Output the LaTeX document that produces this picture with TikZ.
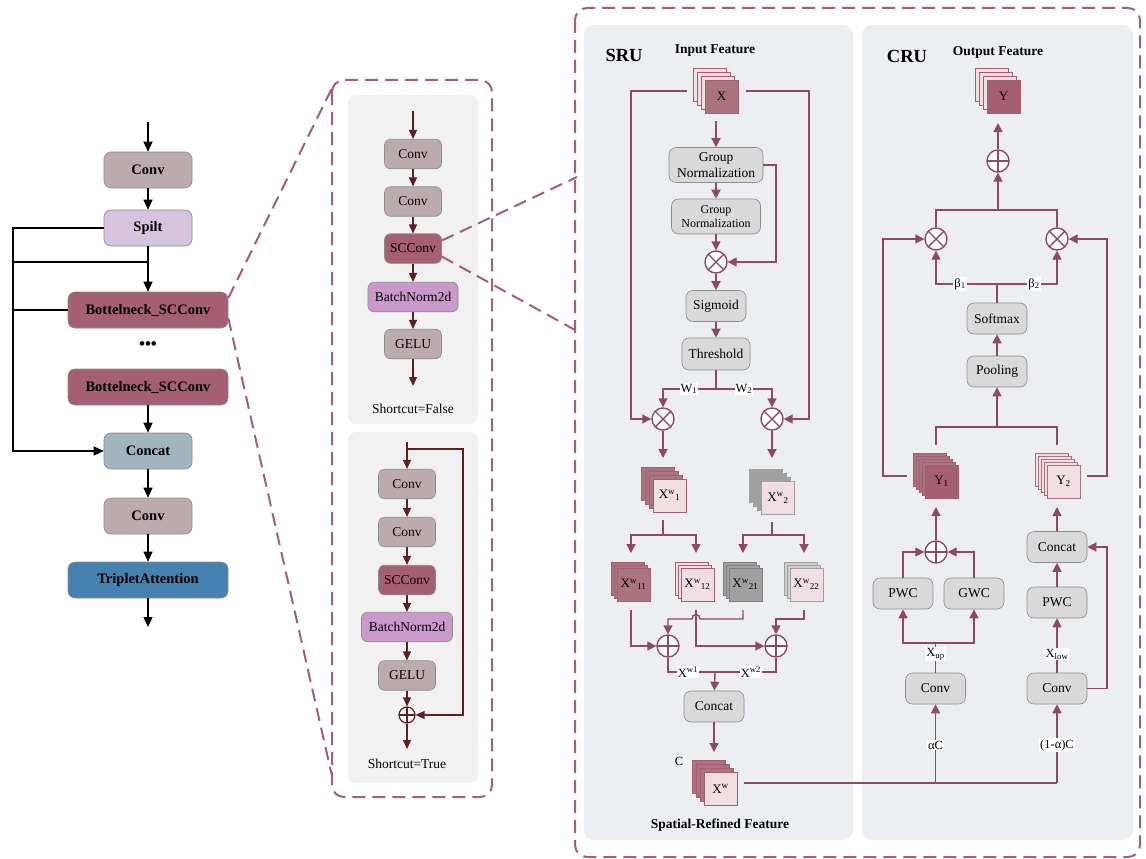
\documentclass[tikz,border=0pt]{standalone}
\usepackage{fontspec}
\setmainfont{Liberation Serif}
\usetikzlibrary{arrows.meta,calc}
\definecolor{lc}{RGB}{142,74,98}
\definecolor{mauve}{RGB}{164,95,114}
\definecolor{mauvem}{RGB}{170,115,128}
\definecolor{pinkl}{RGB}{240,222,227}
\definecolor{grayb}{RGB}{160,160,160}
\definecolor{grayl}{RGB}{205,205,205}
\definecolor{boxg}{RGB}{217,217,217}
\definecolor{boxd}{RGB}{140,140,140}
\definecolor{panel}{RGB}{237,238,242}
\definecolor{midp}{RGB}{241,241,241}
\definecolor{brn}{RGB}{92,32,32}
\definecolor{convc}{RGB}{186,171,175}
\definecolor{spiltc}{RGB}{212,196,222}
\definecolor{concatc}{RGB}{162,181,190}
\definecolor{tripc}{RGB}{69,130,175}
\definecolor{bnc}{RGB}{203,152,203}
\definecolor{dashc}{RGB}{164,95,114}
\newcommand\fsz[1]{\fontsize{#1}{#1}\selectfont}
% #1 name, #2 x, #3 y, #4 n backs, #5 offset, #6 back fill, #7 front fill, #8 draw, #9 label
\newcommand\fstack[9]{%
  \foreach \i in {#4,...,1}{%
    \node[sq, fill=#6, draw=#8] (#1b\i) at ({#2-\i*#5},{#3-\i*#5}) {};
  }%
  \node[sq, fill=#7, draw=#8] (#1) at (#2,#3) {#9};
}
\begin{document}
\begin{tikzpicture}[x=1pt,y=-1pt,
  lbox/.style={draw=black!45, line width=0.6pt, rounded corners=7pt, minimum height=36pt, inner sep=0pt, font=\fsz{14.5}\bfseries},
  mbox/.style={draw=boxd, line width=0.6pt, rounded corners=6pt, minimum height=29.5pt, minimum width=57pt, inner sep=0pt, font=\fsz{13.5}},
  gbox/.style={draw=boxd, fill=boxg, line width=0.6pt, rounded corners=7pt, minimum height=31pt, minimum width=60pt, inner sep=0pt, font=\fsz{13.5}},
  sq/.style={minimum size=33pt, inner sep=0pt, line width=0.7pt, font=\fsz{13}},
  larr/.style={draw=black, line width=1.3pt, -{Triangle[length=10pt,width=9pt]}},
  lline/.style={draw=black, line width=1.3pt},
  barr/.style={draw=brn, line width=1.3pt, -{Triangle[length=9pt,width=8pt]}},
  marr/.style={draw=lc, line width=1.4pt, -{Triangle[length=9pt,width=9pt]}},
  mline/.style={draw=lc, line width=1.4pt},
  dashbox/.style={draw=dashc, line width=2pt, dash pattern=on 13pt off 7pt, rounded corners=12pt},
  zoomline/.style={draw=dashc, line width=2pt, dash pattern=on 13pt off 7pt},
  otimes/.style={circle, draw=lc, fill=white, line width=1.4pt, minimum size=22pt, inner sep=0pt,
    path picture={\draw[lc, line width=1.4pt] (path picture bounding box.north west) -- (path picture bounding box.south east) (path picture bounding box.north east) -- (path picture bounding box.south west);}},
  oplus/.style={circle, draw=lc, fill=white, line width=1.4pt, minimum size=22pt, inner sep=0pt,
    path picture={\draw[lc, line width=1.4pt] (path picture bounding box.north) -- (path picture bounding box.south) (path picture bounding box.east) -- (path picture bounding box.west);}},
  boplus/.style={circle, draw=brn, fill=white, line width=1.2pt, minimum size=16pt, inner sep=0pt,
    path picture={\draw[brn, line width=1.2pt] (path picture bounding box.north) -- (path picture bounding box.south) (path picture bounding box.east) -- (path picture bounding box.west);}},
  title/.style={font=\fsz{18.5}\bfseries, inner sep=0pt},
  htext/.style={font=\fsz{13.5}\bfseries, inner sep=0pt},
  mtext/.style={font=\fsz{13.5}, inner sep=0pt},
  lab/.style={fill=white, font=\fsz{12.5}, inner sep=1pt},
]
\useasboundingbox (0,0) rectangle (1146,859);
\fill[white] (0,0) rectangle (1146,859);

% ---------- backgrounds ----------
\draw[dashbox] (332,80) rectangle (492,797);
\fill[midp, rounded corners=8pt] (348,95) rectangle (478,424);
\fill[midp, rounded corners=8pt] (348,432) rectangle (478,783);
\draw[dashbox] (575,8) rectangle (1140,857);
\fill[panel, rounded corners=10pt] (584,25) rectangle (853,840);
\fill[panel, rounded corners=10pt] (862,25) rectangle (1133,840);

% ---------- left column ----------
\coordinate (lin) at (148,122);
\node[lbox, fill=convc, minimum width=88pt] (lconv1) at (148,170) {Conv};
\node[lbox, fill=spiltc, minimum width=88pt] (lsp) at (148,228) {Spilt};
\node[lbox, fill=mauve, minimum width=160pt] (lb1) at (148,310) {Bottelneck\_SCConv};
\node[font=\fsz{17}\bfseries, inner sep=0pt] (ldots) at (148,346) {•••};
\node[lbox, fill=mauve, minimum width=160pt] (lb2) at (148,387) {Bottelneck\_SCConv};
\node[lbox, fill=concatc, minimum width=88pt] (lcat) at (148,451) {Concat};
\node[lbox, fill=convc, minimum width=88pt] (lconv2) at (148,516) {Conv};
\node[lbox, fill=tripc, minimum width=160pt] (ltrip) at (148,580) {TripletAttention};
\coordinate (lout) at (148,627);
\coordinate (lbusT) at (13,228);
\coordinate (lbusJ) at (13,262);
\coordinate (lbusB) at (13,451);
\coordinate (lj) at (148,262);

\draw[larr] (lin) -- (lconv1);
\draw[larr] (lconv1) -- (lsp);
\draw[larr] (lsp) -- (lb1);
\draw[larr] (lsp.west) -- (lbusT) -- (lbusB) -- (lcat.west);
\draw[lline] (lbusJ) -- (lj);
\draw[lline] (lb1.west) -- (lb1.west -| lbusT);
\draw[larr] (lb2) -- (lcat);
\draw[larr] (lcat) -- (lconv2);
\draw[larr] (lconv2) -- (ltrip);
\draw[larr] (ltrip) -- (lout);

% zoom lines
\coordinate (mpTL) at (334,84);
\coordinate (mpBL) at (332,776);
\draw[zoomline] ([yshift=12pt]lb1.east) -- (mpTL);
\draw[zoomline] ([yshift=-8pt]lb1.east) -- (mpBL);

% ---------- middle: Shortcut=False ----------
\coordinate (mtin) at (413,111);
\node[mbox, fill=convc] (mc1) at (413,154) {Conv};
\node[mbox, fill=convc] (mc2) at (413,201.5) {Conv};
\node[mbox, fill=mauve] (msc) at (413,248.5) {SCConv};
\node[mbox, fill=bnc, minimum width=90pt] (mbn) at (413,297) {BatchNorm2d};
\node[mbox, fill=convc] (mgelu) at (413,344) {GELU};
\coordinate (mtout) at (413,386);
\node[mtext] (msf) at (413,409) {Shortcut=False};
\draw[barr] (mtin) -- (mc1);
\draw[barr] (mc1) -- (mc2);
\draw[barr] (mc2) -- (msc);
\draw[barr] (msc) -- (mbn);
\draw[barr] (mbn) -- (mgelu);
\draw[barr] (mgelu) -- (mtout);

% ---------- middle: Shortcut=True ----------
\coordinate (mbin) at (407,442);
\coordinate (mbtap) at (407,449);
\coordinate (mbR1) at (463,449);
\coordinate (mbR2) at (463,715);
\node[mbox, fill=convc] (md1) at (407,484) {Conv};
\node[mbox, fill=convc] (md2) at (407,532) {Conv};
\node[mbox, fill=mauve] (mdsc) at (407,580) {SCConv};
\node[mbox, fill=bnc, minimum width=91pt] (mdbn) at (407,627) {BatchNorm2d};
\node[mbox, fill=convc] (mdgelu) at (407,675.5) {GELU};
\node[boplus] (mdplus) at (407,715) {};
\coordinate (mbout) at (407,749);
\node[mtext] (mst) at (407,764) {Shortcut=True};
\draw[barr] (mbin) -- (md1);
\draw[barr] (mbtap) -- (mbR1) -- (mbR2) -- (mdplus);
\draw[barr] (md1) -- (md2);
\draw[barr] (md2) -- (mdsc);
\draw[barr] (mdsc) -- (mdbn);
\draw[barr] (mdbn) -- (mdgelu);
\draw[barr] (mdgelu) -- (mdplus);
\draw[barr] (mdplus) -- (mbout);

% zoom lines to SCConv panel
\coordinate (bpT) at (577,177);
\coordinate (bpB) at (575,330);
\draw[zoomline] ([yshift=8pt]msc.east) -- (bpT);
\draw[zoomline] ([yshift=-8pt]msc.east) -- (bpB);

% ---------- SRU ----------
\node[title] (srut) at (624,55) {SRU};
\node[htext] (inft) at (715,51) {Input Feature};
\fstack{X}{721.5}{96.5}{3}{4}{pinkl}{mauvem}{mauve}{X}
\coordinate (sXl) at (687,91);
\coordinate (sXr) at (746,91);
\coordinate (sL1) at (631,91);
\coordinate (sR1) at (809,91);
\coordinate (sXb) at (716,121);
\node[gbox, minimum width=94pt, minimum height=35pt, align=center, font=\fontsize{13.5}{16}\selectfont] (gn1) at (716,165) {Group\\Normalization};
\node[gbox, minimum width=89pt, minimum height=35pt, align=center, font=\fontsize{12}{14}\selectfont] (gn2) at (716,216.5) {Group\\Normalization};
\node[otimes] (ot1) at (716,262) {};
\coordinate (sgr) at (776,165);
\node[gbox, minimum width=60pt] (sig) at (716,306) {Sigmoid};
\node[gbox, minimum width=68pt, minimum height=32pt] (thr) at (716,354) {Threshold};
\coordinate (sj) at (716,389);
\node[otimes] (otL) at (663,419) {};
\node[otimes] (otR) at (772,419) {};

\draw[marr] (sXb) -- (gn1);
\draw[marr] (gn1) -- (gn2);
\draw[marr] (gn2) -- (ot1);
\draw[marr] (gn1.east) -- (sgr) |- (ot1);
\draw[marr] (ot1) -- (sig);
\draw[marr] (sig) -- (thr);
\draw[marr] (thr) -- (sj) -| (otL);
\draw[marr] (sj) -| (otR);
\draw[marr] (sXl) -- (sL1) |- (otL);
\draw[marr] (sXr) -- (sR1) |- (otR);
\node[lab] (w1) at (689,389) {W\textsubscript{1}};
\node[lab] (w2) at (744,389) {W\textsubscript{2}};

\coordinate (sa1) at (663,458);
\coordinate (sa2) at (772,458);
\draw[marr] (otL) -- (sa1);
\draw[marr] (otR) -- (sa2);
\fstack{Xw1}{669.5}{495.5}{3}{4}{mauvem}{pinkl}{mauve}{X\textsuperscript{w}\textsubscript{1}}
\fstack{Xw2}{778}{498}{3}{4}{grayb}{pinkl}{grayb}{X\textsuperscript{w}\textsubscript{2}}

\coordinate (sb1t) at (663,520);
\coordinate (sb1j) at (663,535);
\coordinate (sq11a) at (631,553);
\coordinate (sq12a) at (696,553);
\coordinate (sb2t) at (772,522);
\coordinate (sb2j) at (772,535);
\coordinate (sq21a) at (743,553);
\coordinate (sq22a) at (804,553);
\draw[marr] (sb1t) -- (sb1j) -| (sq11a);
\draw[marr] (sb1j) -| (sq12a);
\draw[marr] (sb2t) -- (sb2j) -| (sq21a);
\draw[marr] (sb2j) -| (sq22a);

\fstack{X11}{633.5}{584.5}{2}{3}{mauvem}{mauvem}{mauve}{X\textsuperscript{w}\textsubscript{11}}
\fstack{X12}{697.5}{584.5}{2}{3}{pinkl}{pinkl}{mauve}{X\textsuperscript{w}\textsubscript{12}}
\fstack{X21}{745.5}{584.5}{2}{3}{grayb}{grayb}{gray}{X\textsuperscript{w}\textsubscript{21}}
\fstack{X22}{806.5}{584.5}{2}{3}{grayl}{pinkl}{grayb}{X\textsuperscript{w}\textsubscript{22}}

\node[oplus] (opL) at (668,646) {};
\node[oplus] (opR) at (776,646) {};
\coordinate (s11b) at (631,610);
\coordinate (s12b) at (696,610);
\coordinate (s21b) at (743,610);
\coordinate (s22b) at (804,610);
\coordinate (s21j) at (743,619);
\coordinate (hopR) at (700,619);
\coordinate (hopL) at (692,619);
\coordinate (s21k) at (668,619);
\coordinate (s22j) at (804,619);
\draw[marr] (s11b) |- (opL);
\draw[marr] (s12b) |- (opR);
\draw[marr] (s21b) -- (s21j) -- (hopR) .. controls (700,613) and (692,613) .. (hopL) -- (s21k) -- (opL);
\draw[marr] (s22b) -- (s22j) -| (opR);

\coordinate (scj) at (715,672);
\node[gbox, minimum width=60pt] (scat) at (714,706.5) {Concat};
\draw[mline] (opL) |- (scj);
\draw[mline] (opR) |- (scj);
\draw[marr] (scj) -- (scat);
\node[lab] (xw1) at (688,672) {X\textsuperscript{w1}};
\node[lab] (xw2) at (751,672) {X\textsuperscript{w2}};
\coordinate (sxa) at (714,752);
\draw[marr] (scat) -- (sxa);
\fstack{Xw}{720.5}{789}{3}{4}{mauvem}{pinkl}{mauve}{X\textsuperscript{w}}
\node[mtext, font=\fsz{12.5}] (sC) at (679,761) {C};
\node[htext] (srft) at (720,825) {Spatial-Refined Feature};

% ---------- CRU ----------
\node[title] (crut) at (907,56) {CRU};
\node[htext] (outft) at (998,52) {Output Feature};
\fstack{Y}{1003.5}{96.5}{3}{4}{pinkl}{mauve}{mauve}{Y}
\node[oplus] (cp) at (998,161) {};
\coordinate (cya) at (998,123);
\coordinate (cj1) at (998,210);
\draw[marr] (cp) -- (cya);
\draw[marr] (cj1) -- (cp);
\node[otimes] (cotL) at (936,239) {};
\node[otimes] (cotR) at (1057,239) {};
\draw[mline] (cotL) |- (cj1);
\draw[mline] (cotR) |- (cj1);
\coordinate (cbj) at (997,284);
\node[gbox] (csm) at (997,318.5) {Softmax};
\node[gbox] (cpool) at (997,371.5) {Pooling};
\draw[marr] (csm) -- (cbj) -| (cotL);
\draw[marr] (cbj) -| (cotR);
\node[lab] (b1) at (960,284) {β\textsubscript{1}};
\node[lab] (b2) at (1034,284) {β\textsubscript{2}};
\draw[marr] (cpool) -- (csm);
\coordinate (cpj) at (997,427);
\coordinate (cy1t) at (936,445);
\coordinate (cy2t) at (1057,445);
\draw[marr] (cpj) -- (cpool);
\draw[mline] (cy1t) |- (cpj);
\draw[mline] (cy2t) |- (cpj);

\fstack{Y1}{941.5}{481.5}{4}{3}{mauvem}{mauve}{mauve}{Y\textsubscript{1}}
\fstack{Y2}{1063.5}{481.5}{4}{3}{pinkl}{pinkl}{mauvem}{Y\textsubscript{2}}
\coordinate (cy1l) at (907,476);
\coordinate (cfl) at (883,476);
\coordinate (cy2r) at (1087,476);
\coordinate (cfr) at (1107,476);
\draw[marr] (cy1l) -- (cfl) |- (cotL);
\draw[marr] (cy2r) -- (cfr) |- (cotR);

\node[oplus] (cp2) at (936,552) {};
\coordinate (cy1a) at (936,507);
\draw[marr] (cp2) -- (cy1a);
\node[gbox] (cpwc1) at (903,593.5) {PWC};
\node[gbox] (cgwc) at (974,593.5) {GWC};
\draw[marr] (cpwc1) |- (cp2);
\draw[marr] (cgwc) |- (cp2);
\coordinate (cxj) at (935.5,643);
\node[gbox] (cconvL) at (935.5,688.5) {Conv};
\draw[marr] (cconvL) -- (cxj) -| (cpwc1);
\draw[marr] (cxj) -| (cgwc);
\node[lab] (xup) at (935.5,654) {X\textsubscript{up}};

\node[gbox] (cconvR) at (1057,688.5) {Conv};
\node[gbox] (cpwc2) at (1057,602.5) {PWC};
\node[gbox] (ccat) at (1057,547) {Concat};
\draw[marr] (cconvR) -- (cpwc2);
\node[lab] (xlow) at (1057,654) {X\textsubscript{low}};
\draw[marr] (cpwc2) -- (ccat);
\coordinate (cy2a) at (1057,507);
\draw[marr] (ccat) -- (cy2a);
\coordinate (ccr) at (1107,688.5);
\draw[marr] (cconvR.east) -- (ccr) |- (ccat);

% bottom feed from X^w
\coordinate (sxr) at (744,783);
\coordinate (cbL) at (935.5,783);
\coordinate (cbR) at (1057,783);
\draw[mline] (sxr) -- (cbR);
\draw[marr] (cbL) -- (cconvL);
\draw[marr] (cbR) -- (cconvR);
\node[lab] (aC) at (935.5,745) {αC};
\node[lab] (a1C) at (1057,745) {(1-α)C};
\end{tikzpicture}
\end{document}
